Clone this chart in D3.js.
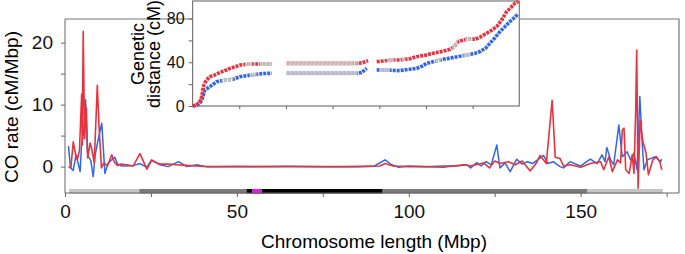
<!DOCTYPE html>
<html>
<head>
<meta charset="utf-8">
<script src="https://cdn.jsdelivr.net/npm/d3@7"></script>
<style>
  body { margin: 0; background: #fff; }
  svg { display: block; font-family: "Liberation Sans", Arial, sans-serif; }
  .axis path, .axis line { stroke: #666; }
  .axis text { fill: #111; }
</style>
</head>
<body>
<div id="chart"></div>
<script>
// CO rate along the chromosome (position in Mbp, rate in cM/Mbp)
var redRate = [[1.0,0],[1.7,-0.2],[2.4,4.0],[3.0,2.2],[3.6,1.1],[4.2,2.6],[4.85,11.7],[5.0,3.5],[5.3,21.8],[5.7,4.5],[6.2,9.5],[6.6,1.4],[7.3,3.8],[7.8,2.8],[8.5,0.6],[9.4,13.1],[9.9,6.5],[10.6,-0.2],[11.3,0.6],[12.3,0.1],[13.6,1.9],[14.3,0.8],[15.2,0.2],[16.2,0.4],[18,0.3],[19.8,0.1],[21.8,2.1],[23.8,-0.4],[25.2,1.0],[27.6,0.4],[30,0.4],[32.5,0.3],[35,0.2],[38,0.1],[42,0],[50,0.05],[60,0],[70,0],[80,0],[88,0.05],[91.6,0.1],[93.1,0.5],[95.5,0.1],[100,0],[105,0],[110,-0.1],[115.9,0.3],[118,0.1],[121.7,0.6],[123.5,-0.2],[125,0.9],[126.5,0.5],[129,0.8],[131,0.3],[133,0.9],[135.3,-0.7],[137,0.5],[138.2,1.8],[140,0.5],[141.7,10.7],[142.6,1.5],[144,1.3],[145,0.1],[147,0.3],[150,-0.1],[152.8,0.5],[155.8,0.8],[156.7,-0.5],[158.2,1.6],[159.2,-0.8],[160.7,1.1],[161.6,0.6],[162.1,5.9],[162.6,6.2],[163.1,-0.5],[164.1,-1.1],[165,1.9],[165.5,-1.1],[166.0,9.1],[166.3,18.8],[166.7,-3.5],[167.3,7.5],[168,4.3],[169,2.2],[169.7,-1.3],[171,1.1],[172,1.6],[173,0.8],[173.6,-0.5]];

var blueRate = [[1.0,3.3],[1.6,-0.2],[2.4,-0.6],[3.2,1.9],[3.8,0.6],[4.4,-0.8],[4.8,3.5],[5.4,5.5],[6.0,10.8],[6.5,2.5],[6.8,1.6],[7.5,1.0],[8.2,-1.6],[8.8,2.0],[9.7,4.5],[10.7,7.0],[11.6,-1.1],[12.5,0.5],[13.6,1.1],[14.5,1.5],[15.2,0.5],[16.5,0.1],[18,0.1],[20,0.2],[21.8,0.5],[23.8,-0.1],[25.2,1.1],[27.6,0.3],[30,0],[33,0.8],[35.5,0],[38.3,0.3],[41,0],[45,0],[55,0],[65,0.05],[75,0],[85,0],[90,0.1],[93.1,1.1],[95,0.3],[97,-0.1],[100,0.1],[105,0],[110,0.1],[114,0.1],[116.9,0.3],[118,-0.2],[119.8,0.65],[121,0.1],[122.5,0.8],[124,0.3],[125.6,3.5],[126.5,-0.2],[128,0.6],[129.5,-0.8],[131.4,1.2],[133,0.4],[134.5,0.8],[136,0.5],[139.2,1.8],[140.5,0.5],[142,0.8],[144,0],[145,-0.2],[146.9,0.8],[149.9,0.1],[152.8,1.2],[154.8,0.5],[156.2,1.9],[157.1,0.8],[157.6,3.1],[158.7,1.1],[159.6,0.3],[161.1,6.7],[162.1,1.6],[163.5,2.4],[164.5,1.1],[165.5,2.2],[166.4,-0.5],[167.2,11.3],[167.9,3.8],[168.4,-0.5],[169.4,1.1],[170.3,1.3],[171.7,1.6],[173.2,0.8],[173.6,1.2]];

// Cumulative genetic distance (Mbp, cM); null = no markers
var redCum = [[0,0],[2,1],[3.5,3],[4.5,6],[5.2,12],[5.7,17.5],[6.5,21],[7.5,23.8],[9.3,26.8],[12,28.5],[14.7,30.8],[17,32],[20,34.4],[23,36],[25.4,37.5],[28,38],[30,38.4],[36,38.4],[42.4,38.4],null,[50.4,39],[88,39],[91,39.5],[94,41.5],null,[98.6,40.5],[103,41.3],[107.5,42],[111,42.1],[116.4,43.2],[120,45.1],[125,46.5],[128.9,48.3],[134,50],[137.9,51.9],[140,54],[142.3,58.9],[146.8,61.1],[151.5,61.1],[154,63],[157.5,66.5],[160,69],[162.9,72.6],[165.6,78.7],[168.2,86.3],[170.5,90],[172.7,94],[174.5,95.5]];

var blueCum = [[0,0],[2,0.5],[3.5,2],[4.9,5],[5.8,10],[6.6,14.6],[9.3,17.7],[12.9,22.2],[15.6,23],[18.3,23.8],[21.8,24.5],[25.4,26.8],[30,28],[34.3,29],[38,29.7],[42.4,29.9],null,[50.4,29.9],[88,29.9],[90.5,30.5],[93.3,34.4],null,[98.6,33],[103,32.8],[107.5,32.6],[111,32.3],[116.4,33.6],[120,34.4],[123,36.5],[125.4,39],[130,41],[134.3,42.7],[140,44.5],[146.8,46.7],[151,48],[154,49.8],[157,53],[159.3,57.4],[162,62.5],[164.6,68],[167,72],[170,77.2],[172.5,81],[174.4,84.2]];

// stretches where the map position is imputed (Mbp)
var redImputed = [[28,32],[36,42.4],[50.4,88],[104,108],[112,114],[139,142],[146,150]];
var blueImputed = [[15.6,21.8],[30.5,34.3],[50.4,88],[100,105.7],[130,133],[145,148.5]];

// chromosome regions (Mbp)
var bands = [[1.2,21.6,"distal"],[21.6,52.8,"proximal"],[52.8,92.4,"pericentromeric"],[92.4,152,"proximal"],[152,173.9,"distal"]];
var centromere = [54.4,57.3];

var xTicks = [0,25,50,75,100,125,150,175];
var yTicks = [0,5,10,15,20];
var insetYTicks = [0,20,40,60,80];

var bandColor = {distal: "#c4c4c4", proximal: "#7a7a7a", pericentromeric: "#000"};
var red = "#e8333f", blue = "#3366e6", grey = "#c2c2c2";

var svg = d3.select("#chart").append("svg")
    .attr("width", 685)
    .attr("height", 254);

var x = d3.scaleLinear().domain([0, 178.6]).range([65, 679]);
var y = d3.scaleLinear().domain([-4.25, 23.8]).range([193, 19]);

// frame (top and right)
svg.append("path")
    .attr("d", "M65,19H679V193")
    .attr("fill", "none")
    .attr("stroke", "#777")
    .attr("stroke-width", 1.2);

// chromosome bar
svg.selectAll("rect.band")
    .data(bands)
    .join("rect")
    .attr("class", "band")
    .attr("x", d => x(d[0]))
    .attr("width", d => x(d[1]) - x(d[0]))
    .attr("y", 189)
    .attr("height", 4.5)
    .attr("fill", d => bandColor[d[2]]);

svg.append("rect")
    .attr("x", x(centromere[0]))
    .attr("width", x(centromere[1]) - x(centromere[0]))
    .attr("y", 189)
    .attr("height", 4.5)
    .attr("fill", "#e619e6");

// axes
var xAxis = svg.append("g")
    .attr("class", "axis")
    .attr("transform", "translate(0,193)")
    .call(d3.axisBottom(x).tickValues(xTicks).tickSize(4).tickPadding(8)
        .tickFormat(d => d % 50 === 0 ? d : ""));
xAxis.select(".domain").attr("d", "M65,0H679");
xAxis.selectAll("text").style("font-size", "19px");

var yAxis = svg.append("g")
    .attr("class", "axis")
    .attr("transform", "translate(65,0)")
    .call(d3.axisLeft(y).tickValues(yTicks).tickSize(4).tickPadding(8)
        .tickFormat(d => d % 10 === 0 ? d : ""));
yAxis.select(".domain").attr("d", "M0,19V193");
yAxis.selectAll("text").style("font-size", "19px");

svg.append("text")
    .attr("x", 374)
    .attr("y", 248)
    .attr("text-anchor", "middle")
    .style("font-size", "19px")
    .text("Chromosome length (Mbp)");

svg.append("text")
    .attr("transform", "translate(18,107) rotate(-90)")
    .attr("text-anchor", "middle")
    .style("font-size", "19px")
    .text("CO rate (cM/Mbp)");

// rate lines
var rateLine = d3.line()
    .x(d => x(d[0]))
    .y(d => y(d[1]));

svg.append("path")
    .datum(blueRate)
    .attr("d", rateLine)
    .attr("fill", "none")
    .attr("stroke", blue)
    .attr("stroke-width", 1.5)
    .attr("stroke-linejoin", "round");

svg.append("path")
    .datum(redRate)
    .attr("d", rateLine)
    .attr("fill", "none")
    .attr("stroke", red)
    .attr("stroke-width", 1.6)
    .attr("stroke-linejoin", "round");

// ---- inset: genetic map ----
var ix = d3.scaleLinear().domain([0, 175]).range([192.6, 519.3]);
var iy = d3.scaleLinear().domain([0, 96]).range([106, 1]);

svg.append("rect")
    .attr("x", ix(0))
    .attr("y", iy(96))
    .attr("width", ix(175) - ix(0))
    .attr("height", iy(0) - iy(96))
    .attr("fill", "#fff")
    .attr("stroke", "#777")
    .attr("stroke-width", 1.2);

var ixAxis = svg.append("g")
    .attr("class", "axis")
    .attr("transform", "translate(0," + iy(0) + ")")
    .call(d3.axisBottom(ix).tickValues([25,50,75,100,125,150]).tickSize(3).tickFormat(""));
ixAxis.select(".domain").remove();

var iyAxis = svg.append("g")
    .attr("class", "axis")
    .attr("transform", "translate(" + ix(0) + ",0)")
    .call(d3.axisLeft(iy).tickValues(insetYTicks).tickSize(4).tickPadding(4)
        .tickFormat(d => d % 40 === 0 ? d : ""));
iyAxis.select(".domain").remove();
iyAxis.selectAll("text").style("font-size", "16px");

var ylab = svg.append("text")
    .attr("transform", "translate(144,54) rotate(-90)")
    .attr("text-anchor", "middle")
    .style("font-size", "18px");
ylab.append("tspan").attr("x", 0).attr("dy", 0).text("Genetic");
ylab.append("tspan").attr("x", 0).attr("dy", 15.5).text("distance (cM)");

var cumLine = d3.line()
    .defined(d => d !== null)
    .x(d => ix(d[0]))
    .y(d => iy(d[1]));

function drawMap(data, imputed, color, id) {
    var clip = svg.append("clipPath").attr("id", id);
    clip.selectAll("rect")
        .data(imputed)
        .join("rect")
        .attr("x", d => ix(d[0]))
        .attr("width", d => ix(d[1]) - ix(d[0]))
        .attr("y", 0)
        .attr("height", 110);

    svg.append("path")
        .datum(data)
        .attr("d", cumLine)
        .attr("fill", "none")
        .attr("stroke", color)
        .attr("stroke-width", 3.6)
        .attr("stroke-dasharray", "3,1");

    svg.append("path")
        .datum(data)
        .attr("d", cumLine)
        .attr("clip-path", "url(#" + id + ")")
        .attr("fill", "none")
        .attr("stroke", grey)
        .attr("stroke-width", 3.8)
        .attr("stroke-dasharray", "3,1");
}

drawMap(blueCum, blueImputed, blue, "clipBlue");
drawMap(redCum, redImputed, red, "clipRed");
</script>
</body>
</html>
